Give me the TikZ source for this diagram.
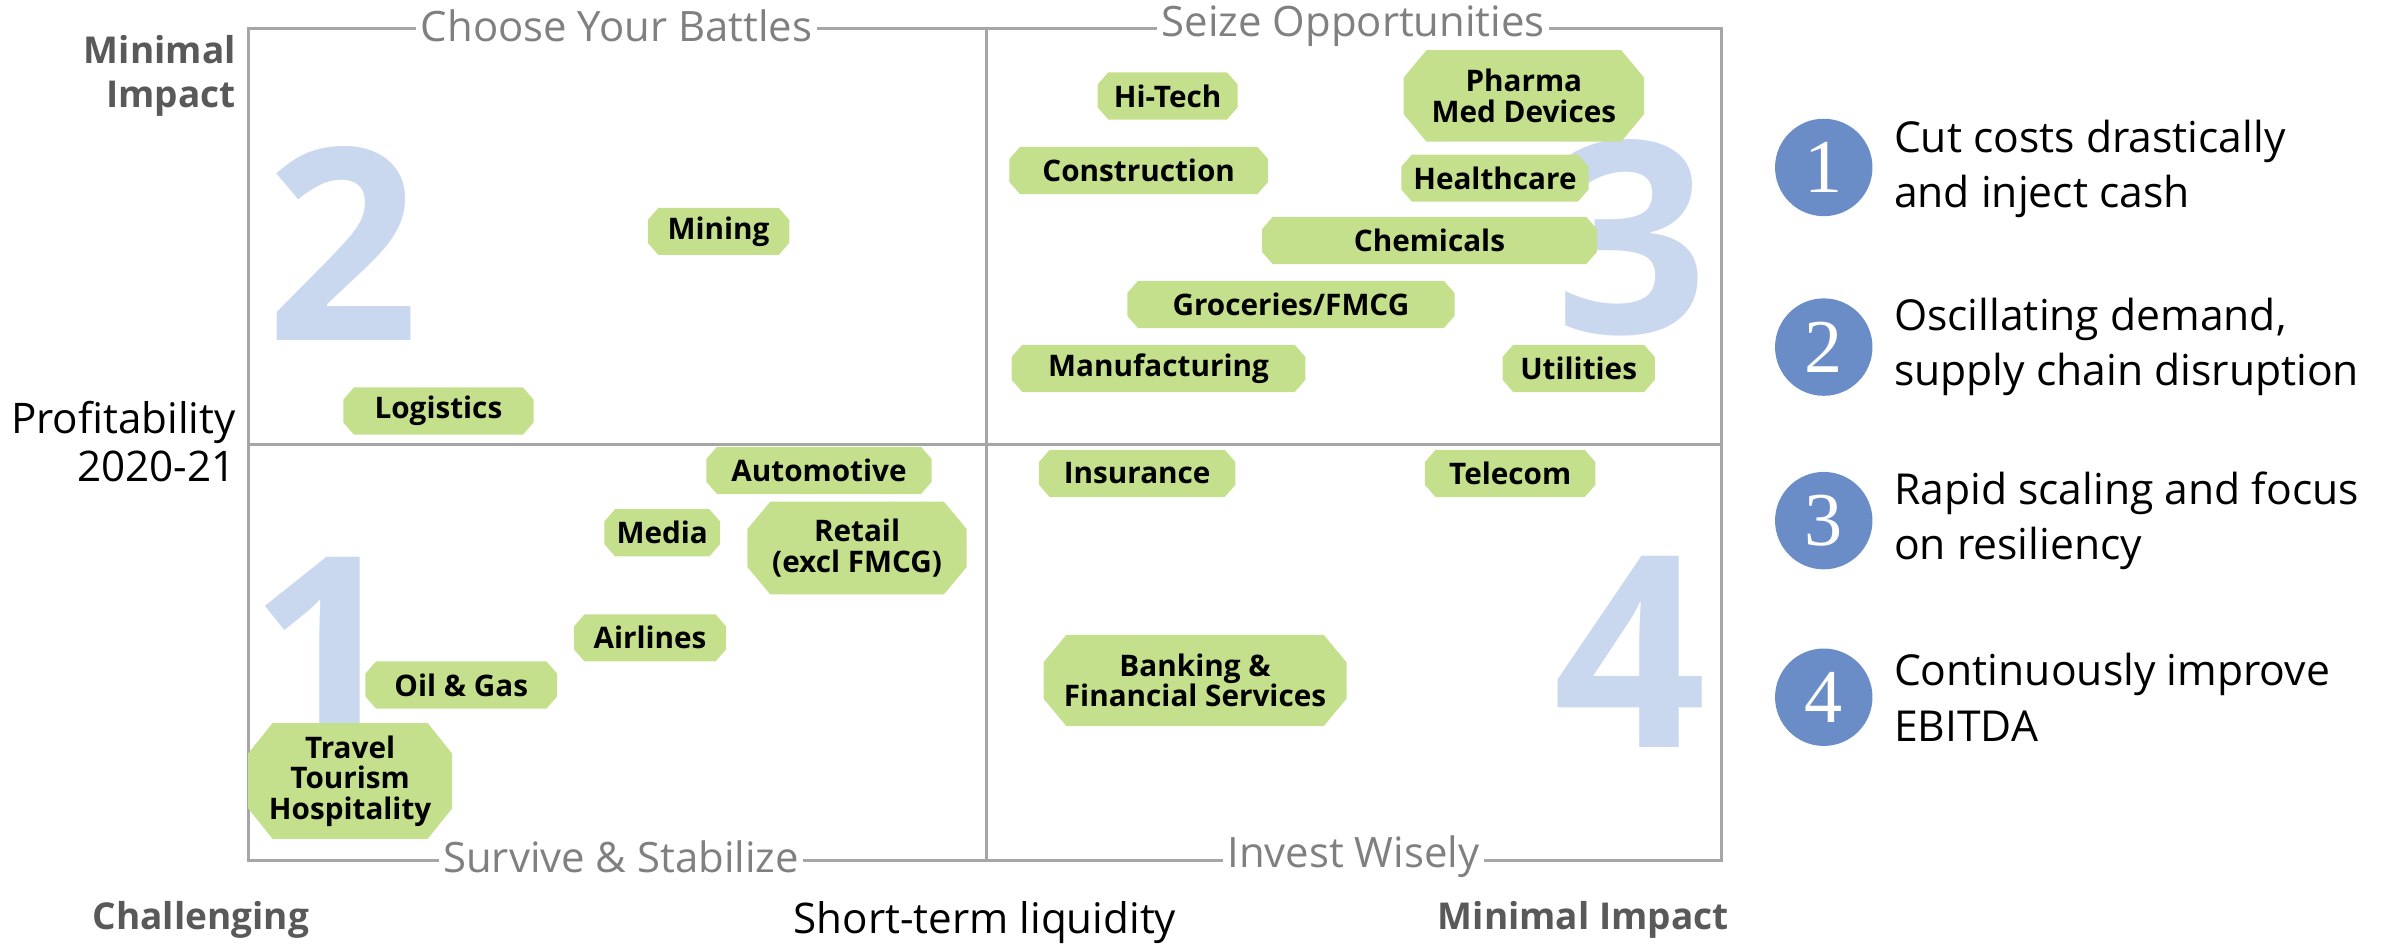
\documentclass[tikz,border=0pt]{standalone}
\usepackage{fontspec}
\setmainfont{Open Sans}
\newfontfamily\dotfont{Liberation Serif}

\definecolor{tagGreen}{HTML}{C4E08D}
\definecolor{numBlue}{HTML}{C9D8EE}
\definecolor{dotBlue}{HTML}{6A8DC8}
\definecolor{gridGray}{HTML}{A6A6A6}
\definecolor{titleGray}{HTML}{808080}
\definecolor{axisGray}{HTML}{595959}

\newcommand\tagcx{7pt}
\newcommand\tagcy{8pt}

\tikzset{
  gridline/.style={draw=gridGray, line width=2pt},
  cut/.code 2 args={\def\tagcx{#1}\def\tagcy{#2}},
  tag/.style={rectangle, inner sep=0pt, minimum height=31pt, align=center,
    font=\bfseries\fontsize{19.5}{20}\selectfont,
    path picture={
      \fill[tagGreen]
        ([xshift=\tagcx]path picture bounding box.north west)
        -- ([xshift=-\tagcx]path picture bounding box.north east)
        -- ([yshift=-\tagcy]path picture bounding box.north east)
        -- ([yshift=\tagcy]path picture bounding box.south east)
        -- ([xshift=-\tagcx]path picture bounding box.south east)
        -- ([xshift=\tagcx]path picture bounding box.south west)
        -- ([yshift=\tagcy]path picture bounding box.south west)
        -- ([yshift=-\tagcy]path picture bounding box.north west)
        -- cycle;
    }},
  bigtag/.style={tag, cut={15pt}{18pt}},
  quadtitle/.style={fill=white, inner xsep=3pt, inner ysep=1pt, text=titleGray,
    font=\fontsize{27.5}{28}\selectfont},
  bignum/.style={text=numBlue, inner sep=0pt, font=\bfseries\fontsize{176}{176}\selectfont},
  dot/.style={circle, fill=dotBlue, minimum size=64pt, inner sep=0pt, text=white,
    font=\dotfont\fontsize{50}{50}\selectfont},
  legend/.style={anchor=west, align=left, inner sep=0pt,
    font=\fontsize{28}{36.5}\selectfont},
  axisbold/.style={text=axisGray, font=\bfseries\fontsize{24.3}{29}\selectfont, inner sep=0pt}
}

\begin{document}
\begin{tikzpicture}[x=1pt,y=-1pt]
  \useasboundingbox (0,0) rectangle (1568,621);

  \coordinate (TL) at (163,19);
  \coordinate (BR) at (1131,565);
  \coordinate (MT) at (648,19);
  \coordinate (MB) at (648,565);
  \coordinate (ML) at (163,292);
  \coordinate (MR) at (1131,292);

  % quadrant numbers
  \node[bignum] (n2) at (225,160) {2};
  \node[bignum] (n3) at (1072,156) {3};
  \node[bignum] (n1) at (214,429) {1};
  \node[bignum] (n4) at (1071,428) {4};

  % grid
  \draw[gridline] (TL) rectangle (BR);
  \draw[gridline] (MT) -- (MB);
  \draw[gridline] (ML) -- (MR);

  \node[quadtitle] (q2) at (405,17) {Choose Your Battles};
  \node[quadtitle] (q3) at (889,17) {Seize Opportunities};
  \node[quadtitle] (q1) at (408,563) {Survive \& Stabilize};
  \node[quadtitle] (q4) at (889,563) {Invest Wisely};

  % axis labels
  \node[axisbold, anchor=east, align=right] (ytop) at (155,50) {Minimal\\Impact};
  \node[anchor=east, align=right, inner sep=0pt, font=\fontsize{27.7}{32}\selectfont]
    (ylab) at (155,290) {Profitability\\2020-21};
  \node[axisbold] (xleft) at (132,604) {Challenging};
  \node[inner sep=0pt, font=\fontsize{27.7}{30}\selectfont] (xlab) at (647,606) {Short-term liquidity};
  \node[axisbold] (xright) at (1040,604) {Minimal Impact};

  % sectors
  \node[tag, minimum width=93pt] (mining) at (472,152) {Mining};
  \node[tag, minimum width=125pt] (logistics) at (288,270) {Logistics};

  \node[tag, minimum width=92pt] (hitech) at (767,63) {Hi-Tech};
  \node[bigtag, minimum width=158pt, minimum height=60pt] (pharma) at (1001,63) {Pharma\\Med Devices};
  \node[tag, minimum width=170pt] (construction) at (748,112) {Construction};
  \node[tag, minimum width=123pt] (healthcare) at (982,117) {Healthcare};
  \node[tag, minimum width=220pt] (chemicals) at (939,158) {Chemicals};
  \node[tag, minimum width=215pt] (groceries) at (848,200) {Groceries/FMCG};
  \node[tag, minimum width=193pt] (manufacturing) at (761,242) {Manufacturing};
  \node[tag, minimum width=100pt] (utilities) at (1037,242) {Utilities};

  \node[tag, minimum width=129pt] (insurance) at (747,311) {Insurance};
  \node[tag, minimum width=112pt] (telecom) at (992,311) {Telecom};
  \node[bigtag, minimum width=199pt, minimum height=60pt] (banking) at (785,447) {Banking \&\\Financial Services};

  \node[tag, minimum width=148pt] (automotive) at (538,309) {Automotive};
  \node[tag, minimum width=76pt] (media) at (435,350) {Media};
  \node[bigtag, minimum width=144pt, minimum height=61pt] (retail) at (563,360) {Retail\\(excl FMCG)};
  \node[tag, minimum width=100pt] (airlines) at (427,419) {Airlines};
  \node[tag, minimum width=126pt] (oilgas) at (303,450) {Oil \& Gas};
  \node[bigtag, cut={16pt}{20pt}, minimum width=134pt, minimum height=76pt] (travel) at (230,513) {Travel\\Tourism\\Hospitality};

  % legend
  \node[dot] (d1) at (1198,110) {1};
  \node[dot] (d2) at (1198,228) {2};
  \node[dot] (d3) at (1198,342) {3};
  \node[dot] (d4) at (1198,458) {4};
  \node[legend] (l1) at (1244,111) {Cut costs drastically\\and inject cash};
  \node[legend] (l2) at (1244,228) {Oscillating demand,\\supply chain disruption};
  \node[legend] (l3) at (1244,342) {Rapid scaling and focus\\on resiliency};
  \node[legend] (l4) at (1244,458) {Continuously improve\\EBITDA};
\end{tikzpicture}
\end{document}
